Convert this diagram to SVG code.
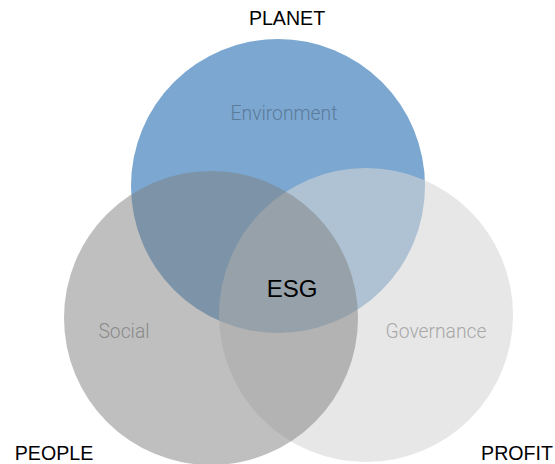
<svg xmlns="http://www.w3.org/2000/svg" width="555" height="464" viewBox="0 0 555 464">
<style>
.cap{font-family:"Liberation Sans",Arial,sans-serif;font-size:19.6px;fill:#000}
.lbl{font-family:Roboto,"Liberation Sans",sans-serif;font-weight:300;font-size:19.3px}
</style>
<rect width="555" height="464" fill="#fff"/>
<g id="planet">
<circle cx="278" cy="186" r="147" fill="#7ba7d0"/>
</g>
<g id="profit">
<circle cx="366" cy="315" r="147" fill="#d6d6d6" fill-opacity="0.58"/>
</g>
<g id="people">
<circle cx="211" cy="318" r="147" fill="#808080" fill-opacity="0.5"/>
</g>
<g id="labels">
<text class="cap" x="287" y="25" text-anchor="middle">PLANET</text>
<text class="cap" x="54" y="460" text-anchor="middle">PEOPLE</text>
<text class="cap" x="517" y="460" text-anchor="middle">PROFIT</text>
<text class="lbl" x="284" y="120" text-anchor="middle" fill="#5b7b9b">Environment</text>
<text class="lbl" x="124" y="338" text-anchor="middle" fill="#8a8a8a">Social</text>
<text class="lbl" x="436" y="338" text-anchor="middle" fill="#a8a8a8">Governance</text>
<text x="292" y="297" text-anchor="middle" font-family="Liberation Sans,Arial,sans-serif" font-size="24" fill="#000">ESG</text>
</g>
</svg>
